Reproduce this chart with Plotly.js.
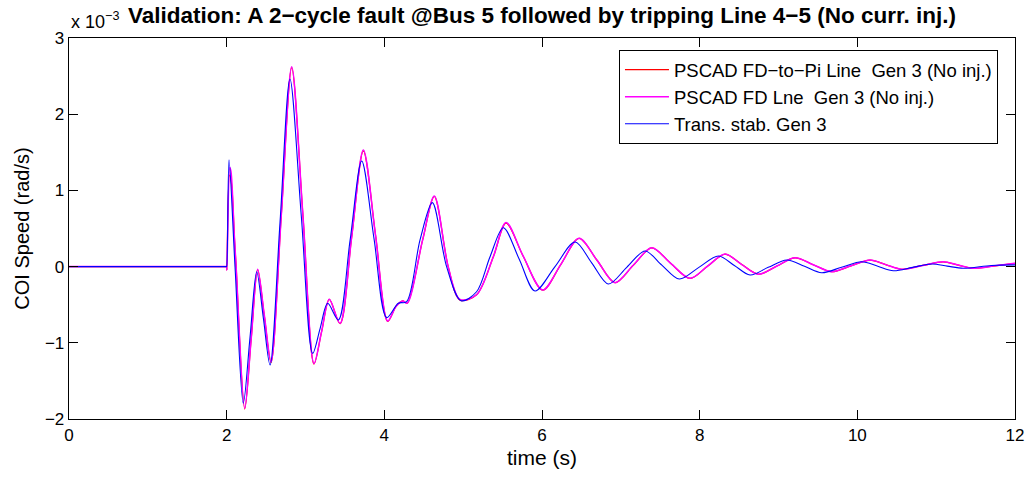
<!DOCTYPE html>
<html>
<head>
<meta charset="utf-8">
<script src="https://cdn.plot.ly/plotly-3.0.1.min.js"></script>
<style>html,body{margin:0;padding:0;background:#fff;}#chart{width:1030px;height:477px;}</style>
</head>
<body>
<div id="chart"></div>
<script>
// Values of COI speed are given in units of 1e-3 rad/s (axis shows "x 10^-3")
var seriesNames = [
  "PSCAD FD\u2212to\u2212Pi Line\u00a0\u00a0Gen 3 (No inj.)",
  "PSCAD FD Lne\u00a0\u00a0Gen 3 (No inj.)",
  "Trans. stab. Gen 3"
];

var redT = [0, 1.0, 1.8, 1.95, 1.99, 1.998, 2.0, 2.003, 2.035, 2.06, 2.10, 2.12, 2.229, 2.311, 2.393, 2.478, 2.563, 2.694, 2.825, 2.967, 3.108, 3.205, 3.302, 3.438, 3.586, 3.734, 3.89, 4.043, 4.15, 4.233, 4.29, 4.486, 4.634, 4.81, 4.96, 5.17, 5.383, 5.544, 5.76, 6.009, 6.24, 6.47, 6.70, 6.926, 7.16, 7.392, 7.63, 7.878, 8.10, 8.322, 8.53, 8.745, 8.98, 9.21, 9.44, 9.675, 9.92, 10.161, 10.36, 10.563, 10.83, 11.09, 11.28, 11.47, 11.75, 12.0];
var redY = [0, 0, 0, 0, 0, 0, 0, -0.045, 1.20, 1.10, 0.35, 0.0, -1.87, -0.95, -0.04, -0.65, -1.26, 0.69, 2.61, 0.68, -1.28, -0.85, -0.43, -0.75, 0.39, 1.52, 0.40, -0.72, -0.52, -0.45, -0.48, 0.35, 0.92, 0.0, -0.44, -0.37, 0.13, 0.57, 0.14, -0.31, 0.03, 0.37, 0.08, -0.21, 0.02, 0.245, 0.045, -0.155, 0.005, 0.163, 0.03, -0.10, 0.008, 0.115, 0.025, -0.067, 0.01, 0.086, 0.026, -0.035, 0.015, 0.063, 0.02, -0.022, 0.01, 0.042];

var magT = [0, 1.0, 1.8, 1.95, 1.99, 1.998, 2.0, 2.003, 2.04, 2.055, 2.097, 2.12, 2.229, 2.311, 2.393, 2.478, 2.563, 2.694, 2.825, 2.967, 3.108, 3.205, 3.302, 3.438, 3.586, 3.734, 3.89, 4.043, 4.15, 4.233, 4.29, 4.486, 4.634, 4.81, 4.96, 5.17, 5.383, 5.544, 5.76, 6.009, 6.24, 6.47, 6.70, 6.926, 7.16, 7.392, 7.63, 7.878, 8.10, 8.322, 8.53, 8.745, 8.98, 9.21, 9.44, 9.675, 9.92, 10.161, 10.36, 10.563, 10.83, 11.09, 11.28, 11.47, 11.75, 12.0];
var magY = [0, 0, 0, 0, 0, 0, 0, -0.045, 1.30, 1.245, 0.41, 0.0, -1.86, -0.95, -0.035, -0.64, -1.248, 0.69, 2.624, 0.68, -1.27, -0.85, -0.43, -0.745, 0.39, 1.53, 0.40, -0.714, -0.52, -0.45, -0.48, 0.35, 0.927, 0.0, -0.43, -0.37, 0.13, 0.58, 0.14, -0.307, 0.03, 0.371, 0.08, -0.211, 0.02, 0.248, 0.045, -0.154, 0.005, 0.165, 0.03, -0.101, 0.008, 0.117, 0.025, -0.067, 0.01, 0.087, 0.026, -0.035, 0.015, 0.064, 0.02, -0.022, 0.01, 0.043];

var blueT = [0, 1.0, 1.8, 1.95, 1.99, 1.998, 2.0, 2.03, 2.106, 2.211, 2.296, 2.381, 2.466, 2.550, 2.677, 2.803, 2.947, 3.091, 3.186, 3.281, 3.417, 3.565, 3.713, 3.87, 4.030, 4.177, 4.283, 4.453, 4.609, 4.79, 4.973, 5.17, 5.341, 5.510, 5.71, 5.911, 6.165, 6.419, 6.63, 6.842, 7.075, 7.307, 7.52, 7.742, 7.99, 8.237, 8.44, 8.639, 8.87, 9.105, 9.33, 9.548, 9.80, 10.056, 10.26, 10.457, 10.70, 10.944, 11.14, 11.345, 11.7, 12.0];
var blueY = [0, 0, 0, 0, 0, 0, 0, 1.40, 0.0, -1.794, -0.93, -0.067, -0.68, -1.291, 0.585, 2.462, 0.66, -1.138, -0.81, -0.482, -0.70, 0.34, 1.386, 0.36, -0.670, -0.48, -0.46, 0.35, 0.839, 0.0, -0.447, -0.33, 0.13, 0.51, 0.10, -0.32, 0.0, 0.323, 0.05, -0.228, -0.01, 0.205, 0.02, -0.163, -0.01, 0.139, 0.015, -0.11, -0.01, 0.087, 0.005, -0.08, -0.008, 0.064, 0.005, -0.054, -0.01, 0.034, 0.006, -0.022, 0.015, 0.022];

var xTicks = [0, 2, 4, 6, 8, 10, 12];
var yTicks = [-2, -1, 0, 1, 2, 3];

var FONT = "Liberation Sans, Arial, Helvetica, sans-serif";

var traces = [
  {x: redT, y: redY, name: seriesNames[0], mode: "lines",
   line: {color: "#ff0000", width: 1.2, shape: "spline", smoothing: 0.9}},
  {x: magT, y: magY, name: seriesNames[1], mode: "lines",
   line: {color: "#ff00ff", width: 1.5, shape: "spline", smoothing: 0.9}},
  {x: blueT, y: blueY, name: seriesNames[2], mode: "lines",
   line: {color: "#0000ff", width: 1.1, shape: "spline", smoothing: 0.9}}
];

var axisCommon = {
  showgrid: false, zeroline: false, showline: true, linecolor: "#000", linewidth: 1.3,
  mirror: "ticks", ticks: "inside", ticklen: 9, tickwidth: 1, tickcolor: "#000",
  tickfont: {family: FONT, size: 17, color: "#000"}
};

var layout = {
  width: 1030, height: 477,
  margin: {l: 69, r: 15, t: 38, b: 58},
  paper_bgcolor: "#fff", plot_bgcolor: "#fff",
  showlegend: true,
  title: {text: "<b>Validation: A 2\u2212cycle fault @Bus 5 followed by tripping Line 4\u22125 (No curr. inj.)</b>",
          font: {family: FONT, size: 22.5, color: "#000"},
          x: 0.5, xref: "paper", y: 0.968, yref: "container", yanchor: "middle"},
  xaxis: Object.assign({}, axisCommon, {
    range: [0, 12], tickvals: xTicks, ticktext: xTicks.map(String),
    title: {text: "time (s)", font: {family: FONT, size: 21, color: "#000"}, standoff: 6}
  }),
  yaxis: Object.assign({}, axisCommon, {
    range: [-2, 3], tickvals: yTicks,
    ticktext: yTicks.map(function(v){ return v < 0 ? "\u2212" + Math.abs(v) : String(v); }),
    title: {text: "COI Speed (rad/s)", font: {family: FONT, size: 20, color: "#000"}, standoff: 10}
  }),
  legend: {
    x: 0.982, xanchor: "right", y: 0.968, yanchor: "top",
    bordercolor: "#000", borderwidth: 1, bgcolor: "#fff",
    font: {family: FONT, size: 18.5, color: "#000"},
    itemwidth: 44,
    tracegroupgap: 0
  },
  annotations: [{
    text: "x 10<sup>\u22123</sup>", xref: "paper", yref: "paper", x: 0, y: 1,
    xanchor: "left", yanchor: "bottom", yshift: 4, showarrow: false,
    font: {family: FONT, size: 18, color: "#000"}
  }]
};

Plotly.newPlot("chart", traces, layout, {displayModeBar: false, staticPlot: true});
</script>
</body>
</html>
